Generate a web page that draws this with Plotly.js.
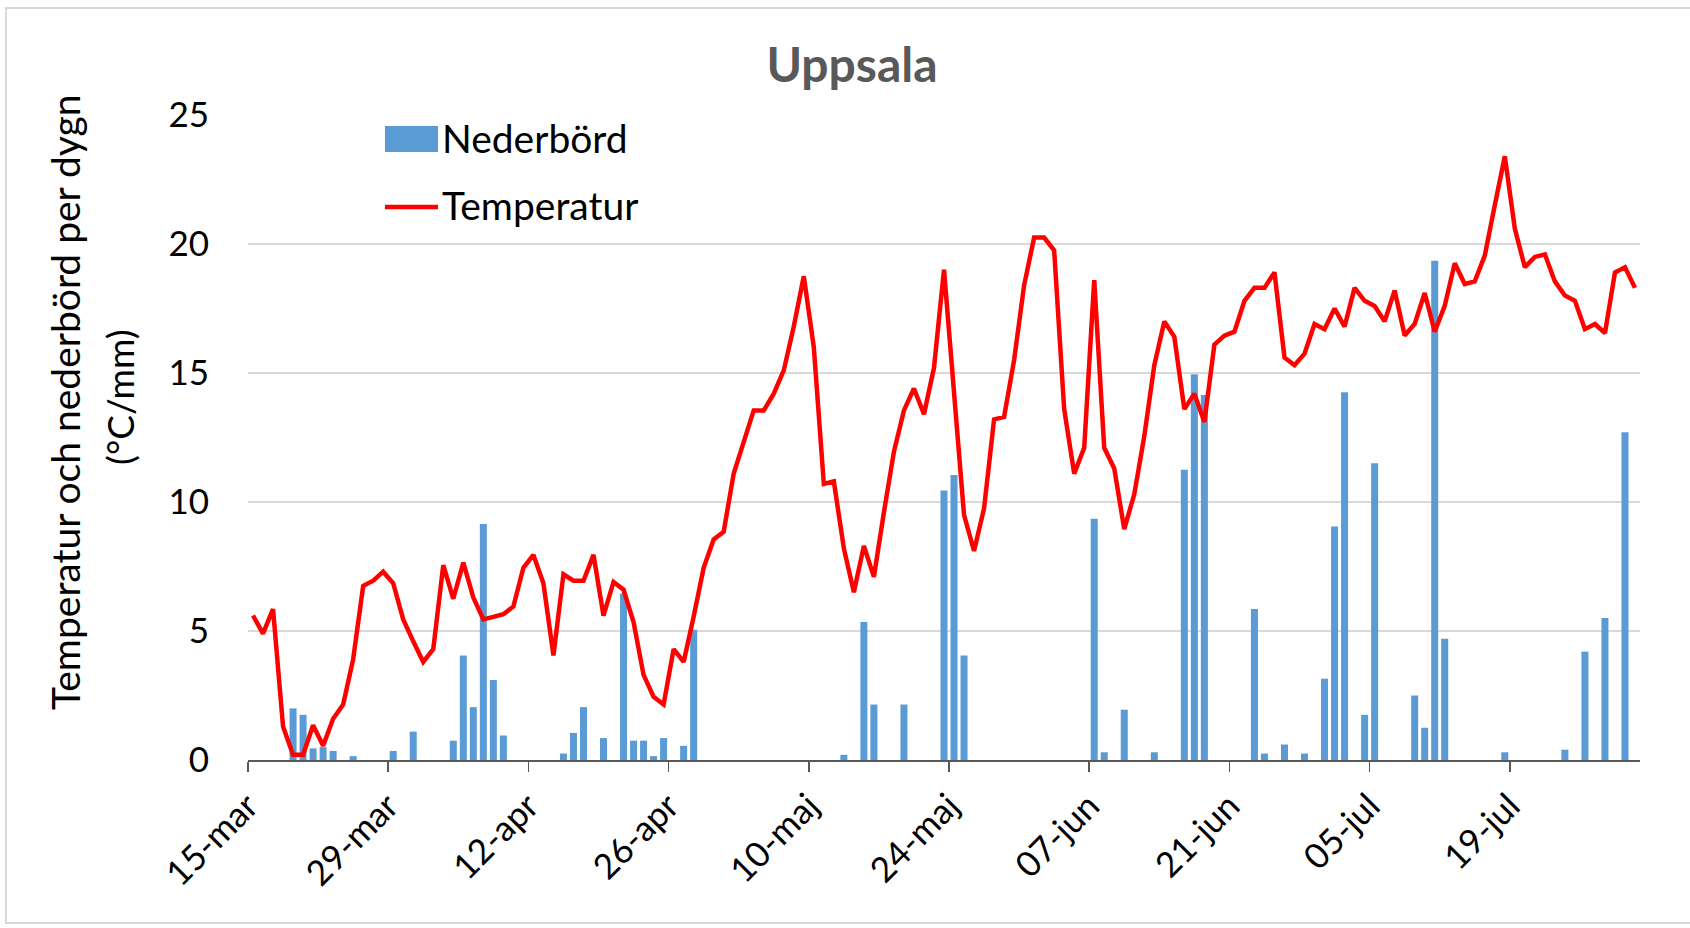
<!DOCTYPE html>
<html>
<head>
<meta charset="utf-8">
<script src="https://cdn.plot.ly/plotly-3.0.1.min.js"></script>
<style>
  html, body { margin: 0; padding: 0; background: #fff; }
  #wrap { position: relative; width: 1690px; height: 928px; }
  #chart { position: absolute; left: 0; top: 0; width: 1690px; height: 928px; }
  #frame { position: absolute; left: 5px; top: 7px; width: 1700px; height: 917px;
           border: 2px solid #d9d9d9; pointer-events: none; box-sizing: border-box; }
</style>
</head>
<body>
<div id="wrap"><div id="chart"></div><div id="frame"></div></div>
<script>
// ---- data ----
const startDate = '2018-03-15';
const temperature = [
  5.6, 4.9, 5.85, 1.3, 0.2, 0.2, 1.35, 0.55, 1.6, 2.15,
  3.9, 6.75, 6.95, 7.3, 6.85, 5.45, 4.6, 3.8, 4.3, 7.55,
  6.25, 7.65, 6.3, 5.45, 5.55, 5.65, 5.95, 7.45, 7.95, 6.85,
  4.05, 7.2, 6.95, 6.95, 7.95, 5.6, 6.9, 6.6, 5.35, 3.3,
  2.45, 2.15, 4.3, 3.8, 5.55, 7.45, 8.55, 8.85, 11.1, 12.35,
  13.55, 13.55, 14.2, 15.1, 16.8, 18.75, 16.0, 10.7, 10.8, 8.2,
  6.5, 8.3, 7.1, 9.6, 11.95, 13.55, 14.4, 13.4, 15.2, 19.0,
  14.4, 9.5, 8.1, 9.75, 13.2, 13.3, 15.5, 18.4, 20.25, 20.25,
  19.75, 13.6, 11.1, 12.1, 18.6, 12.1, 11.3, 8.95, 10.3, 12.55,
  15.3, 17.0, 16.4, 13.6, 14.2, 13.1, 16.1, 16.45, 16.6, 17.8,
  18.3, 18.3, 18.9, 15.6, 15.3, 15.75, 16.9, 16.7, 17.5, 16.8,
  18.3, 17.8, 17.6, 17.0, 18.2, 16.45, 16.9, 18.1, 16.6, 17.6,
  19.25, 18.45, 18.55, 19.55, 21.5, 23.4, 20.6, 19.1, 19.5, 19.6,
  18.55, 18.0, 17.8, 16.7, 16.9, 16.55, 18.9, 19.1, 18.3
];
const precipitation = [
  0, 0, 0, 0, 2.0, 1.75, 0.45, 0.5, 0.35, 0,
  0.15, 0, 0, 0, 0.35, 0, 1.1, 0, 0, 0,
  0.75, 4.05, 2.05, 9.15, 3.1, 0.95, 0, 0, 0, 0,
  0, 0.25, 1.05, 2.05, 0, 0.85, 0, 6.45, 0.75, 0.75,
  0.15, 0.85, 0, 0.55, 5.05, 0, 0, 0, 0, 0,
  0, 0, 0, 0, 0, 0, 0, 0, 0, 0.2,
  0, 5.35, 2.15, 0, 0, 2.15, 0, 0, 0, 10.45,
  11.05, 4.05, 0, 0, 0, 0, 0, 0, 0, 0,
  0, 0, 0, 0, 9.35, 0.3, 0, 1.95, 0, 0,
  0.3, 0, 0, 11.25, 14.95, 14.15, 0, 0, 0, 0,
  5.85, 0.25, 0, 0.6, 0, 0.25, 0, 3.15, 9.05, 14.25,
  0, 1.75, 11.5, 0, 0, 0, 2.5, 1.25, 19.35, 4.7,
  0, 0, 0, 0, 0, 0.3, 0, 0, 0, 0,
  0, 0.4, 0, 4.2, 0, 5.5, 0, 12.7, 0
];
const tickDates = ['2018-03-15','2018-03-29','2018-04-12','2018-04-26','2018-05-10',
                   '2018-05-24','2018-06-07','2018-06-21','2018-07-05','2018-07-19'];
const tickLabels = ['15-mar','29-mar','12-apr','26-apr','10-maj',
                    '24-maj','07-jun','21-jun','05-jul','19-jul'];
const seriesNames = ['Nederbörd', 'Temperatur'];
const chartTitle = 'Uppsala';
const yTitleLines = ['Temperatur och nederbörd per dygn', '(°C/mm)'];

// day categories (each value centred in its day slot)
const DAY = 86400000;
const t0 = Date.parse(startDate + 'T00:00:00Z');
const dates = temperature.map((_, i) => new Date(t0 + i * DAY + DAY / 2).toISOString().slice(0, 19).replace('T', ' '));

// ---- layout geometry ----
const W = 1690, H = 928;
const M = { l: 248, r: 50, t: 115, b: 168 };
const PW = W - M.l - M.r, PH = H - M.t - M.b;
const px = x => (x - M.l) / PW;
const py = y => (H - M.b - y) / PH;

const FONT = 'Lato, "Open Sans", sans-serif';

const traces = [
  {
    type: 'bar', name: seriesNames[0], x: dates, y: precipitation,
    marker: { color: '#5b9bd5', line: { width: 0 } },
    showlegend: false
  },
  {
    type: 'scatter', mode: 'lines', name: seriesNames[1], x: dates, y: temperature,
    line: { color: '#ff0000', width: 4.5, shape: 'linear' },
    showlegend: false
  }
];

const layout = {
  width: W, height: H,
  margin: M,
  paper_bgcolor: '#ffffff', plot_bgcolor: '#ffffff',
  font: { family: FONT, color: '#000000', size: 35 },
  bargap: 0.3,
  title: {
    text: chartTitle,
    font: { family: FONT, size: 48, color: '#595959', weight: 'bold' },
    xref: 'container', yref: 'container',
    x: 852 / W, y: 1 - 65 / H, xanchor: 'center', yanchor: 'middle'
  },
  xaxis: {
    type: 'date',
    range: ['2018-03-15', '2018-08-01'],
    tickmode: 'array', tickvals: tickDates, ticktext: tickLabels,
    tickangle: -45,
    tickfont: { family: FONT, size: 35, color: '#000000' },
    ticks: 'outside', ticklen: 10, tickwidth: 1.5, tickcolor: '#595959',
    showline: true, linecolor: '#595959', linewidth: 1.5,
    showgrid: false, zeroline: false, fixedrange: true
  },
  yaxis: {
    range: [0, 25], tickmode: 'linear', tick0: 0, dtick: 5,
    tickfont: { family: FONT, size: 35, color: '#000000' },
    ticks: '', ticklabelstandoff: 38,
    showgrid: true, gridcolor: '#d9d9d9', gridwidth: 1.3,
    showline: false, zeroline: false, fixedrange: true
  },
  shapes: [
    { type: 'rect', xref: 'paper', yref: 'paper',
      x0: px(385), x1: px(438), y0: py(152), y1: py(126),
      fillcolor: '#5b9bd5', line: { width: 0 } },
    { type: 'line', xref: 'paper', yref: 'paper',
      x0: px(385), x1: px(438), y0: py(207), y1: py(207),
      line: { color: '#ff0000', width: 4.5 } }
  ],
  annotations: [
    { xref: 'paper', yref: 'paper', x: px(440), y: py(138), xanchor: 'left', yanchor: 'middle',
      text: seriesNames[0], showarrow: false, font: { family: FONT, size: 39, color: '#000' } },
    { xref: 'paper', yref: 'paper', x: px(440), y: py(205), xanchor: 'left', yanchor: 'middle',
      text: seriesNames[1], showarrow: false, font: { family: FONT, size: 39, color: '#000' } },
    { xref: 'paper', yref: 'paper', x: px(65), y: py(402), xanchor: 'center', yanchor: 'middle',
      text: yTitleLines[0], textangle: -90, showarrow: false, font: { family: FONT, size: 39, color: '#000' } },
    { xref: 'paper', yref: 'paper', x: px(119), y: py(397), xanchor: 'center', yanchor: 'middle',
      text: yTitleLines[1], textangle: -90, showarrow: false, font: { family: FONT, size: 37, color: '#000' } }
  ]
};

Plotly.newPlot('chart', traces, layout, { staticPlot: true, displayModeBar: false });
</script>
</body>
</html>
